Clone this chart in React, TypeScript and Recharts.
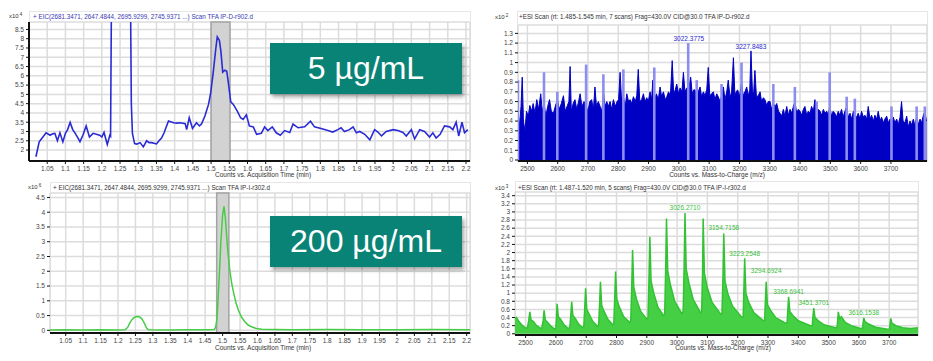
import React from 'react';
import {
  ComposedChart,
  LineChart,
  Line,
  Area,
  Bar,
  XAxis,
  YAxis,
  CartesianGrid,
  ReferenceArea,
  ReferenceDot,
} from 'recharts';

const FONT = 'Arial, "Liberation Sans", Helvetica, sans-serif';

// ---- axis ticks ----
const timeTicks = [
  1.05, 1.1, 1.15, 1.2, 1.25, 1.3, 1.35, 1.4, 1.45, 1.5, 1.55, 1.6, 1.65, 1.7, 1.75, 1.8, 1.85, 1.9, 1.95, 2,
  2.05, 2.1, 2.15, 2.2,
];
const mzTicks = [2500, 2600, 2700, 2800, 2900, 3000, 3100, 3200, 3300, 3400, 3500, 3600, 3700];
const tlYTicks = [2, 2.5, 3, 3.5, 4, 4.5, 5, 5.5, 6, 6.5, 7, 7.5, 8, 8.5];
const blYTicks = [0, 0.5, 1, 1.5, 2, 2.5, 3, 3.5, 4, 4.5];
const trYTicks = [0, 0.1, 0.2, 0.3, 0.4, 0.5, 0.6, 0.7, 0.8, 0.9, 1, 1.1, 1.2, 1.3];
const brYTicks = [0, 0.2, 0.4, 0.6, 0.8, 1, 1.2, 1.4, 1.6, 1.8, 2, 2.2, 2.4, 2.6, 2.8, 3, 3.2, 3.4];

// ---- EIC 5 ug/mL (time min, counts x10^4) ----
const eicLow: [number, number][] = [
  [1.019, 1.64], [1.028, 2.44], [1.034, 2.6], [1.047, 2.93], [1.058, 2.8], [1.065, 2.88], [1.071, 2.9],
  [1.078, 2.5], [1.085, 2.93], [1.093, 2.44], [1.1, 2.9], [1.106, 3.1], [1.113, 3.49], [1.12, 3.1],
  [1.127, 2.9], [1.133, 2.7], [1.14, 2.45], [1.148, 2.8], [1.157, 3.3], [1.166, 2.7], [1.176, 2.9],
  [1.185, 2.85], [1.194, 2.8], [1.2, 2.7], [1.206, 2.95], [1.215, 2.3], [1.222, 2.8], [1.224, 2.75],
  [1.227, 12], [1.278, 12], [1.281, 4.5], [1.284, 2.9], [1.29, 2.35], [1.296, 2.32], [1.305, 2.4],
  [1.314, 2.17], [1.323, 2.5], [1.33, 2.4], [1.337, 2.4], [1.35, 2.33], [1.357, 2.5], [1.364, 2.65],
  [1.371, 2.93], [1.383, 3.57], [1.397, 3.47], [1.406, 3.45], [1.415, 3.47], [1.429, 3.42], [1.433, 3.1],
  [1.44, 3.74], [1.449, 3.16], [1.46, 3.47], [1.468, 3.3], [1.474, 3.42], [1.483, 3.83], [1.493, 4.46],
  [1.499, 5.1], [1.506, 6.2], [1.513, 7.47], [1.517, 8.1], [1.523, 7.9], [1.527, 7.3], [1.532, 6.2],
  [1.538, 6.3], [1.543, 6.25], [1.547, 5.7], [1.554, 4.6], [1.561, 4.46], [1.572, 4.1], [1.581, 3.74],
  [1.588, 3.65], [1.597, 3.9], [1.605, 3.3], [1.616, 3.25], [1.625, 2.85], [1.638, 2.9], [1.647, 3.25],
  [1.656, 3.05], [1.668, 3.25], [1.679, 2.93], [1.69, 2.8], [1.702, 3.05], [1.716, 2.95], [1.725, 3.4],
  [1.739, 3.2], [1.757, 3.25], [1.773, 3.55], [1.784, 3.25], [1.802, 3.16], [1.821, 3.05], [1.834, 2.97],
  [1.848, 3.1], [1.857, 3.2], [1.866, 3.0], [1.88, 3.1], [1.89, 3.25], [1.899, 2.93], [1.908, 3.0],
  [1.922, 2.85], [1.936, 2.55], [1.949, 3.1], [1.958, 2.97], [1.968, 2.76], [1.981, 3.0], [2.0, 3.1],
  [2.013, 3.05], [2.027, 2.95], [2.036, 2.76], [2.05, 3.1], [2.059, 2.6], [2.073, 3.1], [2.086, 3.0],
  [2.1, 2.7], [2.109, 2.93], [2.118, 2.65], [2.129, 2.85], [2.141, 3.3], [2.155, 3.25], [2.164, 3.1],
  [2.173, 3.5], [2.18, 2.76], [2.189, 3.5], [2.196, 2.93], [2.205, 3.1],
];

// ---- EIC 200 ug/mL (time min, counts x10^6) ----
const eicHigh: [number, number][] = [
  [1.005, 0.01], [1.05, 0.02], [1.1, 0.015], [1.15, 0.02], [1.2, 0.01], [1.22, 0.02], [1.228, 0.1],
  [1.234, 0.25], [1.24, 0.36], [1.245, 0.42], [1.25, 0.46], [1.256, 0.47], [1.262, 0.45], [1.268, 0.4],
  [1.273, 0.3], [1.277, 0.2], [1.282, 0.08], [1.287, 0.02], [1.35, 0.01], [1.4, 0.02], [1.45, 0.02],
  [1.476, 0.03], [1.48, 0.1], [1.484, 0.4], [1.488, 1.3], [1.492, 2.2], [1.495, 3.0], [1.5, 3.9],
  [1.504, 4.2], [1.508, 3.8], [1.511, 3.3], [1.514, 2.8], [1.521, 2.0], [1.526, 1.6], [1.531, 1.3],
  [1.538, 0.95], [1.545, 0.69], [1.554, 0.45], [1.564, 0.29], [1.573, 0.18], [1.583, 0.12], [1.597, 0.06],
  [1.612, 0.04], [1.65, 0.03], [1.7, 0.02], [1.8, 0.03], [1.9, 0.02], [2.0, 0.02], [2.1, 0.03], [2.21, 0.02],
];

// ---- ESI scan 5 ug/mL (m/z, counts x10^2) ----
const scanLowDark: [number, number][] = [
  [2469, 0.5], [2474, 0.35], [2479, 0.55], [2483, 0.85], [2487, 0.4], [2492, 0.3], [2497, 0.5], [2503, 0.45],
  [2508, 0.56], [2514, 0.5], [2519, 0.58], [2525, 0.48], [2531, 0.62], [2537, 0.52], [2544, 0.68], [2549, 0.5],
  [2555, 0.58], [2561, 0.45], [2567, 0.55], [2573, 0.62], [2579, 0.5], [2586, 0.48], [2592, 0.55], [2599, 0.62],
  [2605, 0.52], [2612, 0.58], [2619, 0.66], [2625, 0.5], [2632, 0.56], [2637, 0.6], [2641, 0.96], [2645, 0.5],
  [2651, 0.58], [2657, 0.62], [2663, 0.52], [2669, 0.6], [2674, 0.68], [2680, 0.55], [2687, 0.6], [2694, 0.55],
  [2700, 0.5], [2706, 0.6], [2712, 0.62], [2718, 0.52], [2723, 0.75], [2728, 0.55], [2734, 0.6], [2740, 0.55],
  [2746, 0.5], [2751, 0.7], [2756, 0.55], [2762, 0.6], [2767, 0.55], [2773, 0.6], [2778, 0.52], [2784, 0.62],
  [2790, 0.55], [2796, 0.6], [2801, 0.62], [2806, 0.9], [2811, 0.6], [2817, 0.65], [2823, 0.55], [2828, 0.68],
  [2834, 0.6], [2839, 0.62], [2844, 0.58], [2850, 0.65], [2856, 0.6], [2861, 0.66], [2866, 0.93], [2871, 0.6],
  [2877, 0.62], [2883, 0.68], [2888, 0.6], [2894, 0.64], [2899, 0.6], [2905, 0.7], [2910, 0.62], [2914, 0.82],
  [2919, 0.62], [2926, 0.68], [2932, 0.62], [2938, 0.75], [2943, 0.65], [2949, 0.7], [2955, 0.62], [2960, 0.65],
  [2966, 0.7], [2972, 0.66], [2978, 1.02], [2983, 0.68], [2988, 0.72], [2993, 0.78], [2999, 0.68], [3004, 0.74],
  [3010, 0.7], [3015, 0.9], [3020, 0.7], [3026, 0.74], [3031, 0.68], [3035, 0.78], [3039, 0.85], [3044, 0.68],
  [3049, 0.72], [3053, 0.72], [3059, 0.66], [3064, 0.7], [3070, 0.75], [3075, 0.65], [3081, 0.7], [3086, 0.66],
  [3092, 0.72], [3097, 0.95], [3102, 0.66], [3108, 0.68], [3114, 0.7], [3119, 0.62], [3125, 0.68], [3130, 0.65],
  [3136, 0.6], [3141, 0.66], [3147, 0.75], [3152, 0.62], [3158, 0.7], [3163, 0.82], [3169, 0.64], [3174, 0.7],
  [3180, 1.05], [3185, 0.66], [3189, 0.7], [3194, 0.72], [3200, 0.65], [3207, 0.8], [3212, 0.66], [3218, 0.7],
  [3224, 0.75], [3229, 0.66], [3234, 0.72], [3238, 1.12], [3243, 0.68], [3247, 0.7], [3251, 0.92], [3256, 0.65],
  [3262, 0.66], [3268, 0.7], [3273, 0.6], [3279, 0.64], [3284, 0.62], [3290, 0.56], [3295, 0.6], [3301, 0.6],
  [3306, 0.52], [3312, 0.58], [3318, 0.55], [3323, 0.58], [3329, 0.5], [3334, 0.48], [3339, 0.45], [3345, 0.52],
  [3350, 0.45], [3356, 0.55], [3361, 0.46], [3367, 0.52], [3372, 0.48], [3378, 0.55], [3383, 0.6], [3389, 0.48],
  [3394, 0.52], [3400, 0.5], [3405, 0.46], [3411, 0.52], [3416, 0.55], [3422, 0.46], [3427, 0.5], [3433, 0.48],
  [3438, 0.55], [3444, 0.5], [3449, 0.62], [3455, 0.48], [3460, 0.52], [3466, 0.5], [3471, 0.46], [3477, 0.52],
  [3482, 0.48], [3488, 0.5], [3493, 0.46], [3498, 0.55], [3504, 0.45], [3509, 0.5], [3515, 0.48], [3520, 0.44],
  [3526, 0.5], [3531, 0.46], [3537, 0.52], [3542, 0.44], [3548, 0.5], [3554, 0.55], [3559, 0.44], [3565, 0.48],
  [3570, 0.42], [3576, 0.5], [3581, 0.46], [3587, 0.44], [3592, 0.48], [3598, 0.42], [3603, 0.5], [3609, 0.44],
  [3614, 0.46], [3620, 0.42], [3625, 0.55], [3631, 0.42], [3636, 0.46], [3642, 0.4], [3647, 0.46], [3653, 0.42],
  [3658, 0.5], [3664, 0.4], [3669, 0.44], [3675, 0.38], [3680, 0.42], [3686, 0.45], [3691, 0.38], [3697, 0.42],
  [3702, 0.36], [3708, 0.44], [3713, 0.38], [3719, 0.42], [3724, 0.36], [3730, 0.44], [3735, 0.6], [3740, 0.4],
  [3746, 0.38], [3752, 0.45], [3757, 0.34], [3763, 0.4], [3768, 0.36], [3774, 0.42], [3779, 0.35], [3785, 0.45],
  [3790, 0.36], [3796, 0.42], [3801, 0.38], [3807, 0.46], [3812, 0.5], [3817, 0.4],
];
const scanLowLight: [number, number][] = [
  [2469, 0.82], [2555, 0.9], [2599, 0.7], [2694, 0.98], [2751, 0.88], [2817, 0.93], [2919, 0.95], [3031, 1.2],
  [3059, 0.82], [3141, 0.78], [3207, 1.0], [3312, 0.78], [3383, 0.75], [3455, 0.6], [3498, 0.9], [3554, 0.65],
  [3581, 0.63], [3702, 0.55], [3785, 0.55], [3812, 0.55],
];
const scanLowPeaks = [
  { mz: 3033, y: 1.25, text: '3022.3775' },
  { mz: 3238, y: 1.16, text: '3227.8483' },
];

// ---- ESI scan 200 ug/mL (m/z, counts x10^3) ----
const scanHigh: [number, number][] = [
  [2465, 0.38], [2470, 0.4], [2478, 0.3], [2490, 0.2], [2500, 0.14], [2506, 0.15], [2510, 0.32], [2514, 0.54],
  [2518, 0.34], [2526, 0.3], [2536, 0.2], [2548, 0.14],
  [2553, 0.13], [2558, 0.33], [2561, 0.58], [2565, 0.34], [2573, 0.28], [2584, 0.18], [2595, 0.12],
  [2600, 0.14], [2602, 0.4], [2604, 0.74], [2608, 0.42], [2616, 0.35], [2627, 0.22], [2640, 0.13],
  [2646, 0.16], [2649, 0.45], [2652, 0.79], [2656, 0.45], [2664, 0.38], [2675, 0.24], [2688, 0.15],
  [2692, 0.18], [2695, 0.62], [2698, 1.12], [2702, 0.6], [2710, 0.48], [2722, 0.3], [2738, 0.18],
  [2741, 0.22], [2744, 0.7], [2747, 1.28], [2751, 0.7], [2759, 0.55], [2772, 0.35], [2788, 0.22],
  [2791, 0.25], [2794, 0.85], [2797, 1.53], [2801, 0.85], [2810, 0.65], [2824, 0.42], [2843, 0.28],
  [2847, 0.32], [2850, 1.1], [2853, 2.06], [2857, 1.15], [2866, 0.85], [2880, 0.55], [2900, 0.36],
  [2904, 0.4], [2907, 1.3], [2910, 2.39], [2914, 1.3], [2923, 1.0], [2937, 0.65], [2955, 0.45],
  [2959, 0.48], [2962, 1.5], [2965, 2.84], [2969, 1.55], [2978, 1.2], [2992, 0.8], [3015, 0.5],
  [3020, 0.55], [3023, 1.6], [3026, 2.97], [3030, 1.6], [3039, 1.25], [3053, 0.85], [3077, 0.52],
  [3081, 0.55], [3084, 1.5], [3086, 2.84], [3090, 1.5], [3099, 1.15], [3115, 0.78], [3144, 0.48],
  [3148, 0.5], [3151, 1.3], [3154, 2.47], [3158, 1.3], [3167, 1.0], [3183, 0.68], [3214, 0.4],
  [3218, 0.42], [3220, 1.0], [3223, 1.86], [3227, 1.0], [3236, 0.78], [3253, 0.52], [3285, 0.32],
  [3289, 0.34], [3291, 0.75], [3294, 1.28], [3298, 0.72], [3308, 0.58], [3325, 0.4], [3358, 0.26],
  [3363, 0.27], [3365, 0.55], [3368, 0.91], [3372, 0.55], [3382, 0.45], [3400, 0.32], [3440, 0.2],
  [3446, 0.2], [3448, 0.4], [3451, 0.63], [3455, 0.4], [3466, 0.32], [3485, 0.22], [3522, 0.15],
  [3528, 0.16], [3530, 0.35], [3532, 0.54], [3536, 0.38], [3542, 0.42], [3555, 0.28], [3575, 0.2], [3605, 0.13],
  [3612, 0.14], [3614, 0.28], [3616, 0.39], [3620, 0.3], [3632, 0.24], [3655, 0.16], [3695, 0.11],
  [3701, 0.12], [3703, 0.25], [3705, 0.38], [3709, 0.26], [3722, 0.2], [3745, 0.15], [3770, 0.13], [3795, 0.15],
];
const scanHighPeaks = [
  { mz: 3026, y: 3.1, text: '3026.2710' },
  { mz: 3154, y: 2.6, text: '3154.7158' },
  { mz: 3223, y: 1.98, text: '3223.2548' },
  { mz: 3294, y: 1.55, text: '3294.6924' },
  { mz: 3368, y: 1.04, text: '3368.6941' },
  { mz: 3451, y: 0.77, text: '3451.3701' },
  { mz: 3616, y: 0.53, text: '3616.1538' },
];

const fmt = (v: number) => String(Number(v.toFixed(2)));
const tickStyle = { fontSize: 6.5, fill: '#444', fontFamily: FONT };

const lowData = eicLow.map(([t, v]) => ({ t, v }));
const highData = eicHigh.map(([t, v]) => ({ t, v }));
const scanHighData = scanHigh.map(([mz, v]) => ({ mz, v }));
const scanLowData = (() => {
  const map = new Map<number, { mz: number; dark?: number; light?: number }>();
  scanLowDark.forEach(([mz, v]) => map.set(mz, { mz, dark: v }));
  scanLowLight.forEach(([mz, v]) => {
    const row = map.get(mz) || { mz };
    row.light = v;
    map.set(mz, row);
  });
  return [...map.values()].sort((a, b) => a.mz - b.mz);
})();

const LightSpike = (props: any) => {
  const { x, y, width, height } = props;
  if (!(height > 0)) return null;
  const cx = x + width / 2;
  return <rect x={cx - 1.3} y={y} width={2.6} height={height} fill="#8d8def" />;
};

const Text = ({ left, top, size = 6.3, color = '#333', children, center }: any) => (
  <div
    style={{
      position: 'absolute',
      left,
      top,
      fontSize: size,
      lineHeight: 1,
      color,
      fontFamily: FONT,
      whiteSpace: 'nowrap',
      transform: center ? 'translateX(-50%)' : undefined,
    }}
  >
    {children}
  </div>
);

const Exp = ({ left, top, p }: any) => (
  <Text left={left} top={top} size={6}>
    x10<span style={{ fontSize: 4.5, position: 'relative', top: -2, marginLeft: 1 }}>{p}</span>
  </Text>
);

const Frame = ({ left, top, width, height }: any) => (
  <div style={{ position: 'absolute', left, top, width, height, border: '1px solid #e6e6e6', boxSizing: 'border-box' }} />
);

const Badge = ({ left, top, text }: any) => (
  <div
    style={{
      position: 'absolute',
      left,
      top,
      width: 192,
      height: 51,
      background: '#0a8377',
      boxShadow: '2px 3px 4px rgba(0,0,0,0.35)',
      color: '#fff',
      fontFamily: FONT,
      fontSize: 32,
      display: 'flex',
      alignItems: 'center',
      justifyContent: 'center',
    }}
  >
    {text}
  </div>
);

const axisLine = { stroke: '#111', strokeWidth: 2 };

export default function App() {
  return (
    <div style={{ position: 'absolute', left: 0, top: 0, width: 933, height: 361, background: '#fff', overflow: 'hidden' }}>
      <Frame left={29} top={11} width={442} height={151} />
      <Frame left={517} top={11} width={411} height={151} />
      <Frame left={50} top={182} width={421} height={152} />
      <Frame left={515} top={181} width={404} height={155} />

      {/* top left: EIC 5 ug/mL */}
      <div style={{ position: 'absolute', left: 0, top: 0 }}>
        <LineChart width={474} height={172} data={lowData} margin={{ top: 22, right: 4, bottom: 0, left: 4 }}>
          <CartesianGrid stroke="#dcdcdc" strokeWidth={1.5} />
          <ReferenceArea x1={1.5} x2={1.552} fill="#d2d2d2" fillOpacity={1} stroke="#a3a3a3" strokeWidth={1.5} />
          <XAxis
            dataKey="t"
            type="number"
            domain={[1.0, 2.211]}
            allowDataOverflow
            ticks={timeTicks}
            interval={0}
            tickFormatter={fmt}
            tick={tickStyle}
            tickSize={3}
            height={11}
            axisLine={axisLine}
            tickLine={{ stroke: '#111' }}
          />
          <YAxis
            type="number"
            domain={[1.41, 8.9]}
            allowDataOverflow
            ticks={tlYTicks}
            interval={0}
            tickFormatter={fmt}
            tick={tickStyle}
            tickSize={3}
            width={25}
            axisLine={axisLine}
            tickLine={{ stroke: '#111' }}
          />
          <Line dataKey="v" type="linear" stroke="#2b2bd6" strokeWidth={1.6} dot={false} isAnimationActive={false} />
        </LineChart>
      </div>

      {/* bottom left: EIC 200 ug/mL */}
      <div style={{ position: 'absolute', left: 0, top: 180 }}>
        <LineChart width={474} height={165} data={highData} margin={{ top: 13, right: 4, bottom: 1, left: 4 }}>
          <CartesianGrid stroke="#dcdcdc" strokeWidth={1.5} />
          <ReferenceArea x1={1.483} x2={1.518} fill="#d2d2d2" fillOpacity={1} stroke="#a3a3a3" strokeWidth={1.5} />
          <XAxis
            dataKey="t"
            type="number"
            domain={[1.005, 2.2095]}
            allowDataOverflow
            ticks={timeTicks}
            interval={0}
            tickFormatter={fmt}
            tick={tickStyle}
            tickSize={3}
            height={11}
            axisLine={axisLine}
            tickLine={{ stroke: '#111' }}
          />
          <YAxis
            type="number"
            domain={[-0.09, 4.65]}
            allowDataOverflow
            ticks={blYTicks}
            interval={0}
            tickFormatter={fmt}
            tick={tickStyle}
            tickSize={3}
            width={46}
            axisLine={false}
            tickLine={{ stroke: '#111' }}
          />
          <Line dataKey="v" type="linear" stroke="#47cc47" strokeWidth={1.5} dot={false} isAnimationActive={false} />
        </LineChart>
      </div>

      {/* top right: ESI scan 5 ug/mL */}
      <div style={{ position: 'absolute', left: 476, top: 0 }}>
        <ComposedChart width={455} height={172} data={scanLowData} margin={{ top: 25, right: 4, bottom: 0, left: 4 }}>
          <CartesianGrid stroke="#dcdcdc" strokeWidth={1.5} />
          <XAxis
            dataKey="mz"
            type="number"
            domain={[2469, 3819]}
            allowDataOverflow
            ticks={mzTicks}
            interval={0}
            tick={tickStyle}
            tickSize={3}
            height={11}
            axisLine={axisLine}
            tickLine={{ stroke: '#111' }}
          />
          <YAxis
            type="number"
            domain={[-0.01, 1.386]}
            allowDataOverflow
            ticks={trYTicks}
            interval={0}
            tickFormatter={fmt}
            tick={tickStyle}
            tickSize={3}
            width={38}
            axisLine={false}
            tickLine={{ stroke: '#111' }}
          />
          <Bar dataKey="light" shape={<LightSpike />} barSize={2} isAnimationActive={false} />
          <Area
            dataKey="dark"
            type="linear"
            connectNulls
            stroke="#0000c4"
            strokeWidth={1}
            fill="#0000c4"
            fillOpacity={1}
            dot={false}
            isAnimationActive={false}
          />
          {scanLowPeaks.map((p) => (
            <ReferenceDot
              key={p.text}
              x={p.mz}
              y={p.y}
              r={0}
              stroke="none"
              label={{ value: p.text, position: 'center', fill: '#2a2ad0', fontSize: 6.5, fontFamily: FONT }}
            />
          ))}
        </ComposedChart>
      </div>

      {/* bottom right: ESI scan 200 ug/mL */}
      <div style={{ position: 'absolute', left: 476, top: 180 }}>
        <ComposedChart width={446} height={167} data={scanHighData} margin={{ top: 12, right: 4, bottom: 1, left: 4 }}>
          <CartesianGrid stroke="#dcdcdc" strokeWidth={1.5} />
          <XAxis
            dataKey="mz"
            type="number"
            domain={[2465, 3795]}
            allowDataOverflow
            ticks={mzTicks}
            interval={0}
            tick={tickStyle}
            tickSize={3}
            height={11}
            axisLine={axisLine}
            tickLine={{ stroke: '#111' }}
          />
          <YAxis
            type="number"
            domain={[-0.03, 3.49]}
            allowDataOverflow
            ticks={brYTicks}
            interval={0}
            tickFormatter={fmt}
            tick={tickStyle}
            tickSize={3}
            width={35}
            axisLine={false}
            tickLine={{ stroke: '#111' }}
          />
          <Area
            dataKey="v"
            type="linear"
            stroke="#33c233"
            strokeWidth={1.5}
            fill="#45cf45"
            fillOpacity={1}
            dot={false}
            isAnimationActive={false}
          />
          {scanHighPeaks.map((p) => (
            <ReferenceDot
              key={p.text}
              x={p.mz}
              y={p.y}
              r={0}
              stroke="none"
              label={{ value: p.text, position: 'center', fill: '#3cbf3c', fontSize: 6.5, fontFamily: FONT }}
            />
          ))}
        </ComposedChart>
      </div>

      {/* titles */}
      <Exp left={9} top={13} p="4" />
      <Text left={33} top={14} color="#3a3ab5">
        + EIC(2681.3471, 2647.4844, 2695.9299, 2745.9371 ...) Scan TFA IP-D-r902.d
      </Text>
      <Exp left={495} top={14} p="2" />
      <Text left={519} top={14}>
        +ESI Scan (rt: 1.485-1.545 min, 7 scans) Frag=430.0V CID@30.0 TFA IP-D-r902.d
      </Text>
      <Exp left={28} top={184} p="6" />
      <Text left={53} top={185}>
        + EIC(2681.3471, 2647.4844, 2695.9299, 2745.9371 ...) Scan TFA IP-I-r302.d
      </Text>
      <Exp left={495} top={185} p="3" />
      <Text left={518} top={185}>
        +ESI Scan (rt: 1.487-1.520 min, 5 scans) Frag=430.0V CID@30.0 TFA IP-I-r302.d
      </Text>

      {/* axis titles */}
      <Text left={263} top={172} size={6.5} center>
        Counts vs. Acquisition Time (min)
      </Text>
      <Text left={717} top={172} size={6.5} center>
        Counts vs. Mass-to-Charge (m/z)
      </Text>
      <Text left={263} top={345} size={6.5} center>
        Counts vs. Acquisition Time (min)
      </Text>
      <Text left={723} top={345} size={6.5} center>
        Counts vs. Mass-to-Charge (m/z)
      </Text>

      <Badge left={270} top={43} text="5 µg/mL" />
      <Badge left={270} top={216} text="200 µg/mL" />
    </div>
  );
}
